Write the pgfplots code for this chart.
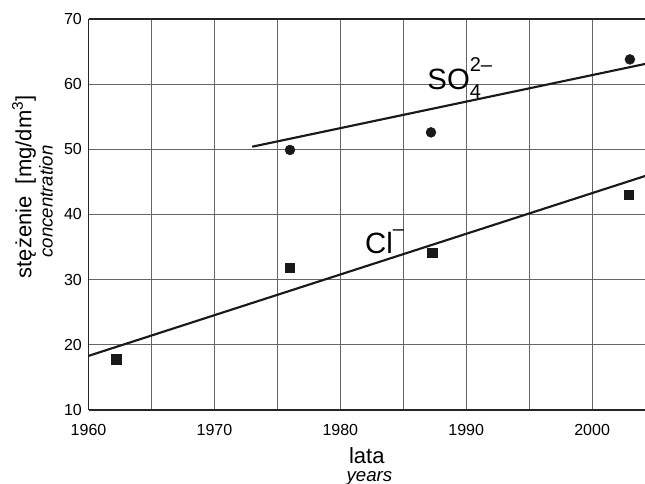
\documentclass[border=0pt]{standalone}
\usepackage{pgfplots}
\pgfplotsset{compat=1.18}
\usepackage{fontspec}
\setmainfont{Liberation Sans}
\begin{document}
\begin{tikzpicture}
\begin{axis}[
  at={(0,0)}, anchor=south west,
  scale only axis,
  width=417.4pt, height=293.25pt,
  xmin=1960, xmax=2004.2,
  ymin=10, ymax=70,
  xtick={1960,1965,...,2000},
  xticklabels={1960,,1970,,1980,,1990,,2000},
  ytick={10,20,...,70},
  axis x line=box,
  axis y line*=left,
  axis line style={line width=1.4pt, black!85},
  major tick length=0pt,
  grid=major,
  major grid style={line width=0.9pt, black!60},
  /pgf/number format/assume math mode=true,
  /pgf/number format/1000 sep={},
  ticklabel style={font=\fontsize{12}{13}\selectfont},
  xticklabel style={yshift=-7.4pt},
  yticklabel style={xshift=-1.5pt},
  clip=false,
]
% trend lines
\addplot[line width=1.6pt, black!90] coordinates {(1973,50.4) (2004.2,63.1)};
\addplot[line width=1.6pt, black!90] coordinates {(1960,18.3) (2004.2,45.9)};
% SO4 points
\addplot[only marks, mark=*, mark size=3.7pt, black!90] coordinates {(1976,49.9) (1987.2,52.6) (2003,63.8)};
% Cl points
\addplot[only marks, mark=square*, mark size=3.5pt, black!90] coordinates {(1962.2,17.8) (1976,31.8) (1987.3,34.1) (2002.9,43.0)};
% series labels
\node[anchor=base west, inner sep=0pt, font=\fontsize{22}{24}\selectfont] at (axis cs:1986.9,59.2)
  {SO\rlap{\raisebox{-0.3em}{\fontsize{15}{15}\selectfont 4}}\raisebox{0.6em}{\fontsize{15}{15}\selectfont 2–}};
\node[anchor=base west, inner sep=0pt, font=\fontsize{22}{24}\selectfont] at (axis cs:1981.95,34.0)
  {Cl\raisebox{0.6em}{\fontsize{15}{15}\selectfont –}};
% axis labels
\node[rotate=90, font=\fontsize{16.5}{18}\selectfont, inner sep=0pt] at ([xshift=-48.4pt]rel axis cs:0,0.571) {stężenie\ \ [mg/dm\textsuperscript{3}]};
\node[rotate=90, font=\itshape\fontsize{14}{15}\selectfont, inner sep=0pt] at ([xshift=-31.9pt]rel axis cs:0,0.533) {concentration};
\node[font=\fontsize{16.5}{18}\selectfont, inner sep=0pt] at ([yshift=-34pt]rel axis cs:0.5,0) {lata};
\node[font=\itshape\fontsize{14}{15}\selectfont, inner sep=0pt] at ([yshift=-51.5pt, xshift=2pt]rel axis cs:0.5,0) {years};
\end{axis}
\pgfresetboundingbox
\useasboundingbox (-66.4pt,-55.5pt) rectangle (417.4pt,307.5pt);
\end{tikzpicture}
\end{document}
